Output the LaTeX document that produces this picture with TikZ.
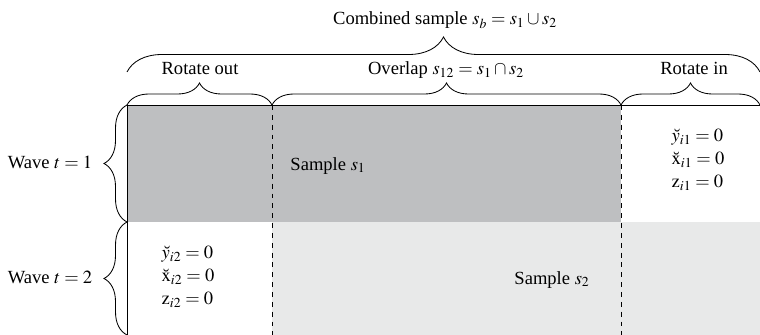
\documentclass[tikz,border=0pt]{standalone}
\usepackage{mathptmx}
\usepackage[no-math]{fontspec}
\setmainfont{Liberation Serif}
\usetikzlibrary{decorations.pathreplacing, positioning}
\definecolor{wavedark}{RGB}{190, 191, 193}
\definecolor{wavelight}{RGB}{232, 233, 233}
\tikzset{
  brc/.style    = {decorate, decoration={brace, amplitude=#1}, line width=0.6pt},
  brc/.default  = 0.55cm,
  lbl/.style    = {font=\fontsize{13.2}{16.4}\selectfont, inner sep=0pt},
  eqs/.style    = {lbl, align=left},
  edge/.style   = {line width=0.7pt},
  cut/.style    = {line width=0.6pt, dash pattern=on 3.5pt off 3.5pt},
}
\begin{document}
\begin{tikzpicture}

\useasboundingbox (0,0) rectangle (19,-8.375);

% grid corners
\coordinate (tl) at (3.175,-2.625);
\coordinate (tr) at (19,-2.625);
\coordinate (a1) at (6.8,-2.625);
\coordinate (a2) at (15.525,-2.625);
\coordinate (ml) at (3.175,-5.55);
\coordinate (bl) at (3.175,-8.375);
\coordinate (b1) at (6.8,-8.375);
\coordinate (b2) at (15.525,-8.375);

% wave 1 / wave 2 fills
\fill[wavedark] (tl) rectangle (15.525,-5.55);
\fill[wavelight] (6.8,-5.55) rectangle (19,-8.375);

% frame
\draw[edge] (tr) -- (tl) -- (bl);
\draw[cut] (a1) -- (b1);
\draw[cut] (a2) -- (b2);

% braces on top
\coordinate (cl) at (3.175,-1.8);
\coordinate (cr) at (19,-1.8);
\draw[brc=0.875cm] (cl) -- (cr);
\draw[brc] (tl) -- (a1);
\draw[brc] (a1) -- (a2);
\draw[brc] (a2) -- (tr);

% braces on the left
\draw[brc=0.575cm] (ml) -- (tl);
\draw[brc=0.575cm] (bl) -- (ml);

% labels
\node[lbl, anchor=base] (comb) at (11.125,-0.625) {Combined sample $s_b = s_1 \cup s_2$};
\node[lbl, anchor=base] (rout) at (5.0,-1.875) {Rotate out};
\node[lbl, anchor=base] (ovl) at (11.15,-1.875) {Overlap $s_{12} = s_1 \cap s_2$};
\node[lbl, anchor=base] (rin) at (17.35,-1.875) {Rotate in};

\node[lbl, anchor=base] (w1) at (1.25,-4.2) {Wave $t = 1$};
\node[lbl, anchor=base] (w2) at (1.25,-7.075) {Wave $t = 2$};

\node[lbl, anchor=base] (s1) at (8.2,-4.25) {Sample $s_1$};
\node[lbl, anchor=base] (s2) at (13.8,-7.1) {Sample $s_2$};

\node[eqs] (z1) at (17.45,-4.0) {$\breve{y}_{i1} = 0$\\$\breve{\mathrm{x}}_{i1} = 0$\\$\mathrm{z}_{i1} = 0$};
\node[eqs] (z2) at (4.7,-6.925) {$\breve{y}_{i2} = 0$\\$\breve{\mathrm{x}}_{i2} = 0$\\$\mathrm{z}_{i2} = 0$};

\end{tikzpicture}
\end{document}
